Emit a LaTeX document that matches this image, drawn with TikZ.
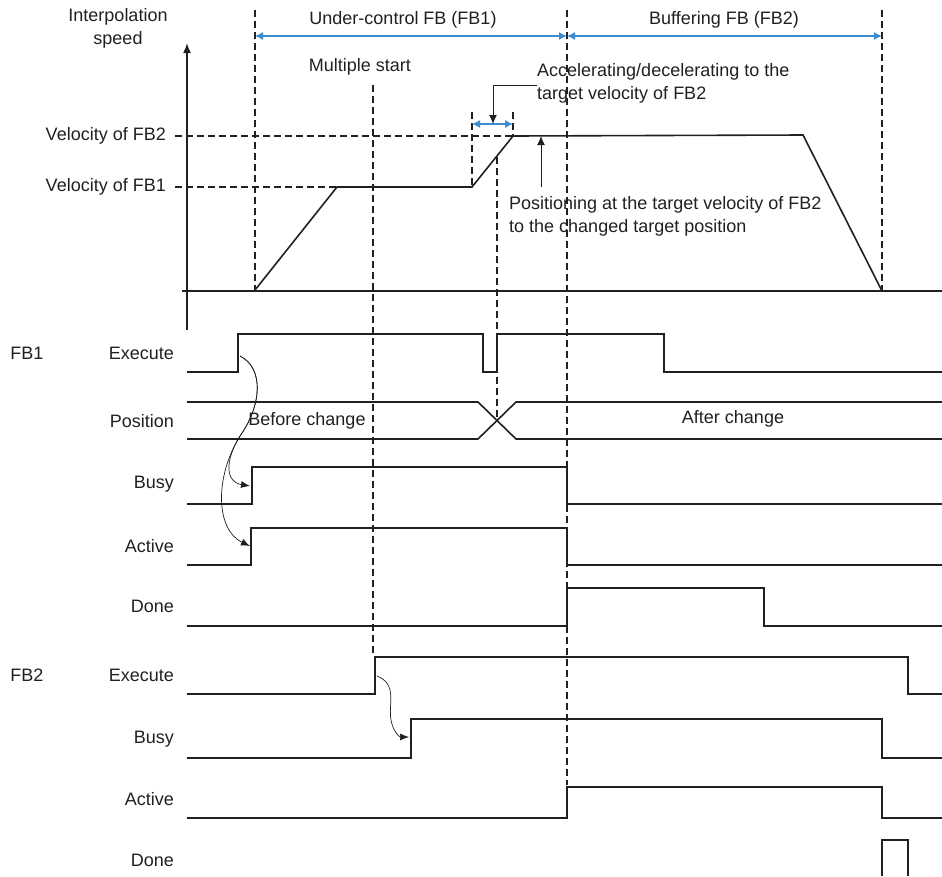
\documentclass[tikz,border=0pt]{standalone}
\usepackage{fontspec}
\setmainfont{Liberation Sans}
\usetikzlibrary{arrows.meta}
\definecolor{chartink}{HTML}{231F20}
\definecolor{chartblue}{HTML}{3C8DD0}

\begin{document}
\begin{tikzpicture}[
    x=1pt,y=-1pt,
    >=Latex,
    sig/.style={line width=1.6pt,draw=chartink},
    guide/.style={dash pattern=on 7pt off 4pt,line width=1.1pt,draw=chartink},
    span/.style={{Latex[length=8pt,width=8pt]}-{Latex[length=8pt,width=8pt]},
      line width=1.3pt,draw=chartblue},
    callout/.style={-{Latex[length=9pt,width=8pt]},line width=1pt,draw=chartink},
    cause/.style={-{Latex[length=9pt,width=7pt]},line width=.7pt,draw=chartink},
    lbl/.style={font=\fontsize{18}{23}\selectfont,text=chartink,inner sep=0pt}
  ]
    \useasboundingbox (0,0) rectangle (942,876);

    % axes
    \draw[sig,-{Latex[length=10pt,width=8pt]}] (187,330) -- (187,43);
    \draw[sig] (182,291) -- (942,291);
    \node[lbl,align=center] (yaxis) at (118,28) {Interpolation\\speed};

    % guide lines
    \draw[guide] (175,136) -- (513,136);
    \draw[guide] (175,187) -- (337,187);
    \draw[guide] (255,10) -- (255,290);
    \draw[guide] (373,85) -- (373,655);
    \draw[guide] (472,112) -- (472,187);
    \draw[guide] (513,112) -- (513,136);
    \draw[guide] (497,157) -- (497,420);
    \draw[guide] (567,10) -- (567,785);
    \draw[guide] (882,10) -- (882,290);

    \node[lbl,anchor=east] (vfb2) at (166,136) {Velocity of FB2};
    \node[lbl,anchor=east] (vfb1) at (166,187) {Velocity of FB1};

    % sections
    \draw[span] (255,36) -- (567,36);
    \draw[span] (567,36) -- (882,36);
    \node[lbl] (ctrl) at (403,20) {Under-control FB (FB1)};
    \node[lbl] (buff) at (724,20) {Buffering FB (FB2)};
    \node[lbl] (multi) at (360,67) {Multiple start};

    % speed profile
    \draw[sig] (255,290) -- (337,187) -- (472,187) -- (513,136) -- (803,135) -- (882,291);

    % acc/dec window
    \draw[span] (472,124) -- (513,124);
    \node[lbl,anchor=west,align=left] (accnote) at (537,83)
      {Accelerating/decelerating to the\\target velocity of FB2};
    \coordinate (acctip) at (493,124);
    \draw[callout] (accnote.west |- 0,85) -| (acctip);

    \node[lbl,anchor=west,align=left] (posnote) at (509,216)
      {Positioning at the target velocity of FB2\\to the changed target position};
    \coordinate (postip) at (541,136);
    \draw[callout] (541,187) -- (postip);

    % signal names
    \node[lbl] (fb1) at (27,353) {FB1};
    \node[lbl] (fb2) at (27,675) {FB2};
    \foreach \name/\y [count=\i] in {Execute/353,Position/421,Busy/484,Active/546,Done/606,
        Execute/675,Busy/739,Active/799,Done/860}
      \node[lbl,anchor=east] (row\i) at (174,\y) {\name};

    % FB1
    \draw[sig] (187,372) -- (238,372) -- (238,334) -- (483,334) -- (483,372) -- (497,372)
      -- (497,334) -- (664,334) -- (664,372) -- (942,372);
    \draw[sig] (187,402) -- (478,402) -- (516,439) -- (942,439);
    \draw[sig] (187,439) -- (478,439) -- (516,402) -- (942,402);
    \node[lbl] (before) at (307,421) {Before change};
    \node[lbl] (after) at (733,419) {After change};
    \draw[sig] (187,504) -- (252,504) -- (252,467) -- (567,467) -- (567,504) -- (942,504);
    \draw[sig] (187,565) -- (251,565) -- (251,528) -- (567,528) -- (567,565) -- (942,565);
    \draw[sig] (187,626) -- (567,626) -- (567,588) -- (764,588) -- (764,626) -- (942,626);

    % FB2
    \draw[sig] (187,694) -- (375,694) -- (375,657) -- (908,657) -- (908,694) -- (942,694);
    \draw[sig] (187,758) -- (411,758) -- (411,719) -- (882,719) -- (882,758) -- (942,758);
    \draw[sig] (187,818) -- (567,818) -- (567,787) -- (882,787) -- (882,818) -- (942,818);
    \draw[sig] (882,876) -- (882,840) -- (908,840) -- (908,876);

    % start -> busy/active
    \coordinate (exec1) at (240,356);
    \coordinate (busy1) at (250,486);
    \coordinate (active1) at (250,546);
    \draw[cause] (exec1) .. controls (264,368) and (262,405) .. (240,436)
      .. controls (224,462) and (226,482) .. (busy1);
    \draw[cause] (exec1) .. controls (264,368) and (262,405) .. (240,436)
      .. controls (214,478) and (216,530) .. (active1);
    \coordinate (exec2) at (377,676);
    \coordinate (busy2) at (409,737);
    \draw[cause] (exec2) .. controls (398,684) and (388,705) .. (391,720)
      .. controls (393,732) and (400,737) .. (busy2);
  \end{tikzpicture}
\end{document}
